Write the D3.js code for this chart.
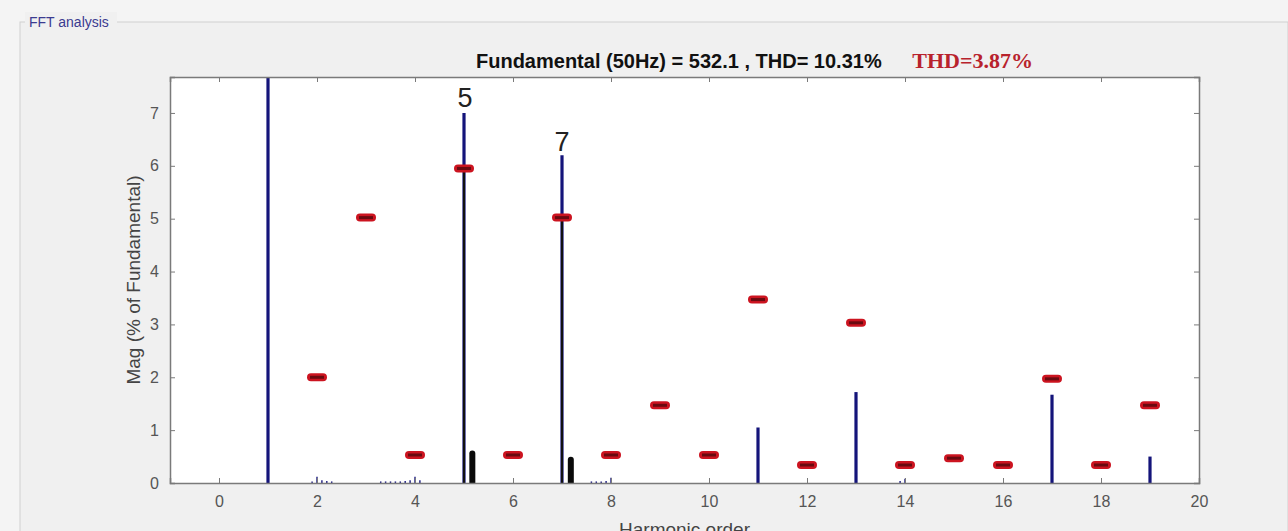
<!DOCTYPE html>
<html>
<head>
<meta charset="utf-8">
<script src="https://cdn.jsdelivr.net/npm/d3@7"></script>
<style>
  body { margin: 0; background: #f4f4f4; }
  svg { display: block; }
  .tick text { font-family: "Liberation Sans", Arial, sans-serif; font-size: 16px; fill: #555; }
  .tick line, .domain { stroke: #7a7a7a; }
</style>
</head>
<body>
<svg id="chart"></svg>
<script>
// Harmonic spectrum (blue stems), % of fundamental
const harmOrder = [1, 5, 7, 11, 13, 17, 19];
const harmMag = [100, 7.0, 6.2, 1.05, 1.72, 1.67, 0.5];

// tiny interharmonic leftovers (blue)
const smallOrder = [1.9, 2.0, 2.1, 2.2, 2.3, 3.3, 3.4, 3.5, 3.6, 3.7, 3.8, 3.9, 4.0, 4.1, 7.6, 7.7, 7.8, 7.9, 8.0, 13.9, 14.0];
const smallMag = [0.03, 0.12, 0.05, 0.04, 0.03, 0.03, 0.03, 0.03, 0.03, 0.03, 0.04, 0.05, 0.12, 0.05, 0.03, 0.03, 0.03, 0.04, 0.1, 0.04, 0.08];

// black stems (second spectrum)
const blackOrder = [5.17, 7.18];
const blackMag = [0.56, 0.44];
const blackUnderOrder = [5, 7];
const blackUnderMag = [5.95, 5.02];

// red markers (THD=3.87% case)
const redOrder = [2, 3, 4, 5, 6, 7, 8, 9, 10, 11, 12, 13, 14, 15, 16, 17, 18, 19];
const redMag = [2.0, 5.02, 0.53, 5.95, 0.53, 5.02, 0.53, 1.47, 0.53, 3.47, 0.34, 3.03, 0.34, 0.47, 0.34, 1.97, 0.34, 1.47];

const xTicks = [0, 2, 4, 6, 8, 10, 12, 14, 16, 18, 20];
const yTicks = [0, 1, 2, 3, 4, 5, 6, 7];

const svgWidth = 1288;
const svgHeight = 531;
const margin = { top: 77, right: 89, bottom: 48, left: 170 };
const width = svgWidth - margin.left - margin.right;
const height = svgHeight - margin.top - margin.bottom;

const svg = d3.select("#chart")
  .attr("width", svgWidth)
  .attr("height", svgHeight);

// panel frame
svg.append("rect")
  .attr("x", 20).attr("y", 22)
  .attr("width", svgWidth - 20).attr("height", svgHeight)
  .attr("fill", "#f0f0f0")
  .attr("stroke", "#d0d0d0");
svg.append("rect")
  .attr("x", 25).attr("y", 12)
  .attr("width", 92).attr("height", 18)
  .attr("fill", "#f0f0f0");
svg.append("text")
  .attr("x", 29).attr("y", 27)
  .style("font-family", "Liberation Sans, Arial, sans-serif")
  .style("font-size", "14px")
  .style("fill", "#3b3b90")
  .text("FFT analysis");

const x = d3.scaleLinear().domain([-1, 20]).range([0, width]);
const y = d3.scaleLinear().domain([0, 7.68]).range([height, 0]);

const g = svg.append("g").attr("transform", `translate(${margin.left},${margin.top})`);

g.append("rect").attr("width", width).attr("height", height).attr("fill", "#fff");

g.append("clipPath").attr("id", "clip")
  .append("rect").attr("width", width).attr("height", height);

const plot = g.append("g").attr("clip-path", "url(#clip)");

// axes, MATLAB style: ticks pointing inward on all four sides
g.append("g")
  .attr("transform", `translate(0,${height})`)
  .call(d3.axisBottom(x).tickValues(xTicks).tickSize(-5).tickPadding(13));
g.append("g")
  .call(d3.axisTop(x).tickValues(xTicks).tickSize(-5).tickFormat(""));
g.append("g")
  .call(d3.axisLeft(y).tickValues(yTicks).tickSize(-5).tickPadding(11));
g.append("g")
  .attr("transform", `translate(${width},0)`)
  .call(d3.axisRight(y).tickValues(yTicks).tickSize(-5).tickFormat(""));
g.selectAll(".domain").attr("stroke-width", 1.5);

// small blue stems
plot.append("g").selectAll("line")
  .data(smallOrder)
  .enter().append("line")
  .attr("x1", d => x(d)).attr("x2", d => x(d))
  .attr("y1", y(0)).attr("y2", (d, i) => y(smallMag[i]))
  .attr("stroke", "#2a2a8a").attr("stroke-width", 1.5);

// main blue stems
plot.append("g").selectAll("line")
  .data(harmOrder)
  .enter().append("line")
  .attr("x1", d => x(d)).attr("x2", d => x(d))
  .attr("y1", y(0)).attr("y2", (d, i) => y(harmMag[i]))
  .attr("stroke", "#14147a").attr("stroke-width", 3.2);

// black overlay on 5th and 7th
plot.append("g").selectAll("line")
  .data(blackUnderOrder)
  .enter().append("line")
  .attr("x1", d => x(d)).attr("x2", d => x(d))
  .attr("y1", y(0)).attr("y2", (d, i) => y(blackUnderMag[i]))
  .attr("stroke", "#111").attr("stroke-width", 2);

// black thick stems
plot.append("g").selectAll("line")
  .data(blackOrder)
  .enter().append("line")
  .attr("x1", d => x(d)).attr("x2", d => x(d))
  .attr("y1", y(0)).attr("y2", (d, i) => y(blackMag[i]))
  .attr("stroke", "#0a0a0a").attr("stroke-width", 6).attr("stroke-linecap", "round");

// red markers
const marks = plot.append("g").selectAll("g")
  .data(redOrder)
  .enter().append("g")
  .attr("transform", (d, i) => `translate(${x(d)},${y(redMag[i])})`);
marks.append("rect")
  .attr("x", -10).attr("y", -4).attr("width", 20).attr("height", 8)
  .attr("rx", 4)
  .attr("fill", "#cc1420");
marks.append("rect")
  .attr("x", -7).attr("y", -1.5).attr("width", 14).attr("height", 3)
  .attr("fill", "#6a0a10");

// harmonic labels
g.append("text")
  .attr("x", x(5) + 1).attr("y", y(7.0) - 6)
  .attr("text-anchor", "middle")
  .style("font-family", "Liberation Sans, Arial, sans-serif")
  .style("font-size", "27px").style("fill", "#222")
  .text("5");
g.append("text")
  .attr("x", x(7)).attr("y", y(6.2) - 4)
  .attr("text-anchor", "middle")
  .style("font-family", "Liberation Sans, Arial, sans-serif")
  .style("font-size", "27px").style("fill", "#222")
  .text("7");

// title
svg.append("text")
  .attr("x", 476).attr("y", 68)
  .style("font-family", "Liberation Sans, Arial, sans-serif")
  .style("font-size", "20px").style("font-weight", "bold").style("fill", "#111")
  .text("Fundamental (50Hz) = 532.1 , THD= 10.31%");
svg.append("text")
  .attr("x", 1033).attr("y", 68)
  .attr("text-anchor", "end")
  .style("font-family", "Liberation Serif, Times New Roman, serif")
  .style("font-size", "22px").style("font-weight", "bold").style("fill", "#b8222c")
  .text("THD=3.87%");

// axis labels
svg.append("text")
  .attr("transform", `translate(140,${margin.top + height / 2}) rotate(-90)`)
  .attr("text-anchor", "middle")
  .style("font-family", "Liberation Sans, Arial, sans-serif")
  .style("font-size", "19px").style("fill", "#444")
  .text("Mag (% of Fundamental)");
svg.append("text")
  .attr("x", margin.left + width / 2).attr("y", 536)
  .attr("text-anchor", "middle")
  .style("font-family", "Liberation Sans, Arial, sans-serif")
  .style("font-size", "19px").style("fill", "#444")
  .text("Harmonic order");
</script>
</body>
</html>
